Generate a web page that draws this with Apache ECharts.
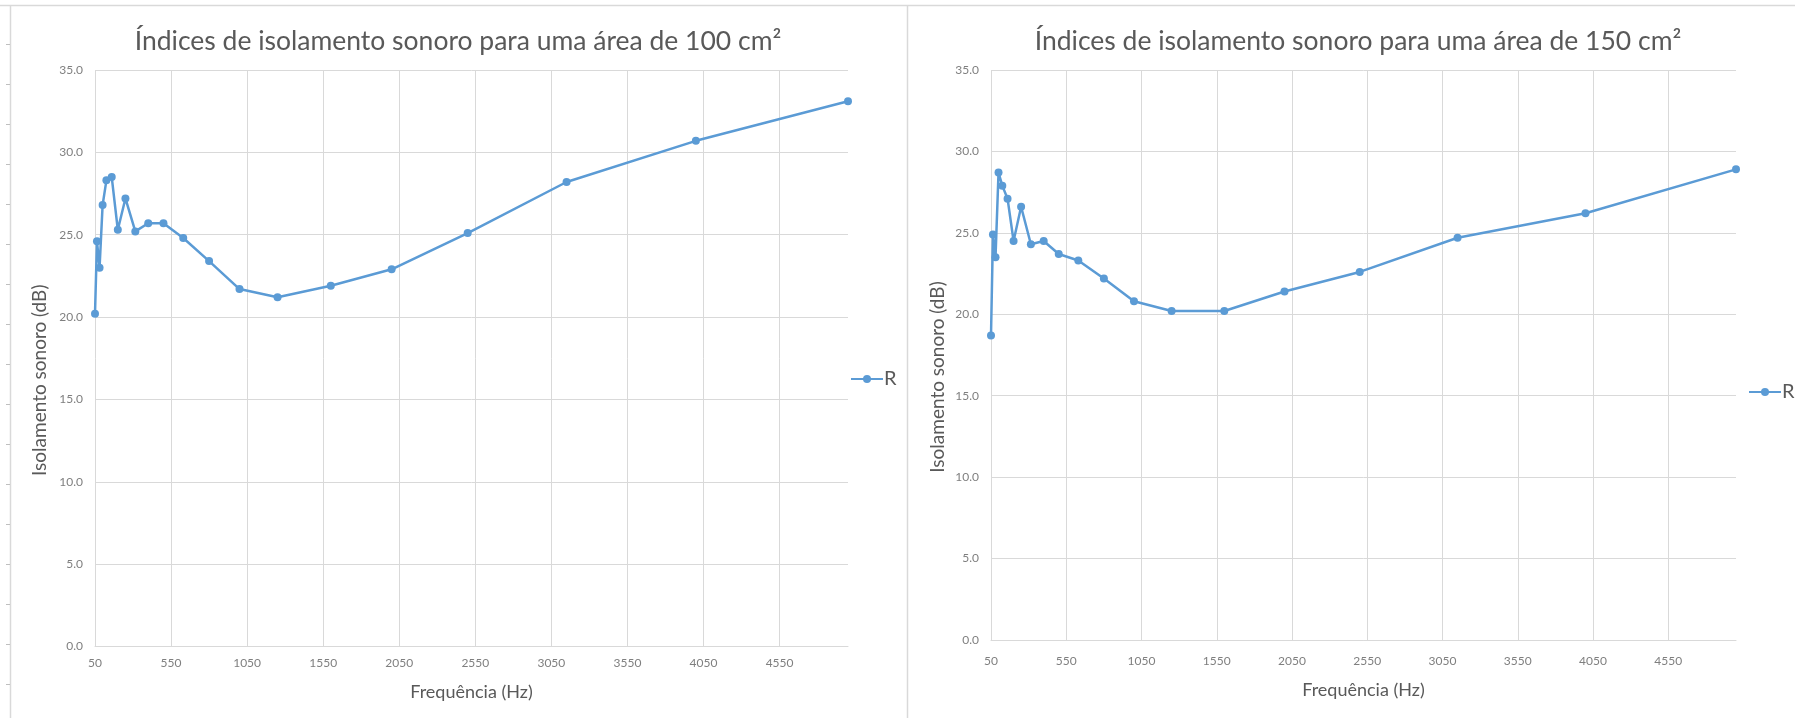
<!DOCTYPE html>
<html>
<head>
<meta charset="utf-8">
<script src="https://cdn.jsdelivr.net/npm/echarts@6/dist/echarts.min.js"></script>
<style>
html,body{margin:0;padding:0;background:#fff;}
#chart{width:1795px;height:718px;}
</style>
</head>
<body>
<div id="chart"></div>
<script>
// Third-octave band frequencies (Hz)
const frequencies = [50, 63, 80, 100, 125, 160, 200, 250, 315, 400, 500, 630, 800, 1000, 1250, 1600, 2000, 2500, 3150, 4000, 5000];
// Sound insulation index R (dB), area 100 cm²
const r100 = [20.2, 24.6, 23.0, 26.8, 28.3, 28.5, 25.3, 27.2, 25.2, 25.7, 25.7, 24.8, 23.4, 21.7, 21.2, 21.9, 22.9, 25.1, 28.2, 30.7, 33.1];
// Sound insulation index R (dB), area 150 cm²
const r150 = [18.7, 24.9, 23.5, 28.7, 27.9, 27.1, 24.5, 26.6, 24.3, 24.5, 23.7, 23.3, 22.2, 20.8, 20.2, 20.2, 21.4, 22.6, 24.7, 26.2, 28.9];
const titles = ['Índices de isolamento sonoro para uma área de 100 cm²', 'Índices de isolamento sonoro para uma área de 150 cm²'];
const xName = 'Frequência (Hz)';
const yName = 'Isolamento sonoro (dB)';
const seriesName = 'R';

const FONT = 'Lato, "Open Sans", sans-serif';
const BLUE = '#5B9BD5';
const GRID_C = '#d9d9d9';
const LABEL_C = '#7f7f7f';
const TEXT_C = '#595959';

function pairs(ys){ return frequencies.map((f,i)=>[f, ys[i]]); }

const grids = [
  {left: 95, right: 1795-848, top: 70, bottom: 718-646.5},
  {left: 991, right: 1795-1736, top: 70, bottom: 718-640}
];

function xAxis(gi, gap, margin){
  return {
    gridIndex: gi, type: 'value', min: 50, max: 5000, interval: 500,
    name: xName, nameLocation: 'middle', nameGap: gap,
    nameTextStyle: {fontFamily: FONT, fontSize: 18, color: TEXT_C},
    axisLine: {show: true, lineStyle: {color: GRID_C, width: 1}},
    axisTick: {show: false},
    axisLabel: {showMaxLabel: false, margin: margin, fontFamily: FONT, fontSize: 12, color: LABEL_C, formatter: v => String(v)},
    splitLine: {show: true, showMaxLine: false, lineStyle: {color: GRID_C, width: 1}}
  };
}
function yAxis(gi, gap){
  return {
    gridIndex: gi, type: 'value', min: 0, max: 35, interval: 5,
    name: yName, nameLocation: 'middle', nameGap: gap, nameRotate: 90,
    nameTextStyle: {fontFamily: FONT, fontSize: 19, color: TEXT_C, padding: [0, 44, 0, 0]},
    axisLine: {show: false}, axisTick: {show: false},
    axisLabel: {margin: 12, fontFamily: FONT, fontSize: 12, color: LABEL_C, formatter: v => v.toFixed(1)},
    splitLine: {show: true, lineStyle: {color: GRID_C, width: 1}}
  };
}
function lineSeries(gi, ys){
  return {
    name: seriesName, type: 'line', xAxisIndex: gi, yAxisIndex: gi,
    data: pairs(ys), symbol: 'circle', symbolSize: 8, showSymbol: true,
    lineStyle: {color: BLUE, width: 2.5}, itemStyle: {color: BLUE},
    emphasis: {disabled: true}, animation: false
  };
}

// frame decoration (chart-area borders)
const frame = [
  {type:'line', shape:{x1:0, y1:5.5, x2:1795, y2:5.5}, style:{stroke:GRID_C, lineWidth:1.5}},
  {type:'line', shape:{x1:10.5, y1:5, x2:10.5, y2:718}, style:{stroke:GRID_C, lineWidth:1.5}},
  {type:'line', shape:{x1:907.5, y1:5, x2:907.5, y2:718}, style:{stroke:GRID_C, lineWidth:1.5}}
];
for (let y = 44; y < 718; y += 40) {
  frame.push({type:'line', shape:{x1:6, y1:y+0.5, x2:10, y2:y+0.5}, style:{stroke:'#bfbfbf', lineWidth:1}});
}
frame.push({type:'text', x:458, y:41, style:{text:titles[0], textAlign:'center', textVerticalAlign:'middle', font:'26.5px ' + FONT, fill:TEXT_C}});
frame.push({type:'text', x:1358, y:41, style:{text:titles[1], textAlign:'center', textVerticalAlign:'middle', font:'26.5px ' + FONT, fill:TEXT_C}});

const legendBase = {
  data: [seriesName], orient: 'vertical', itemWidth: 32, itemHeight: 10, itemGap: 0,
  textStyle: {fontFamily: FONT, fontSize: 20, color: TEXT_C, padding: [0,0,0,-4]},
  selectedMode: false, padding: 0
};

const chart = echarts.init(document.getElementById('chart'), null, {renderer: 'canvas'});
chart.setOption({
  backgroundColor: '#ffffff',
  animation: false,
  grid: grids,
  xAxis: [xAxis(0, 37, 11), xAxis(1, 41, 15)],
  yAxis: [yAxis(0, 46), yAxis(1, 44)],
  legend: [
    Object.assign({}, legendBase, {left: 850, top: 369}),
    Object.assign({}, legendBase, {left: 1748, top: 382})
  ],
  series: [lineSeries(0, r100), lineSeries(1, r150)],
  graphic: frame
});
</script>
</body>
</html>
